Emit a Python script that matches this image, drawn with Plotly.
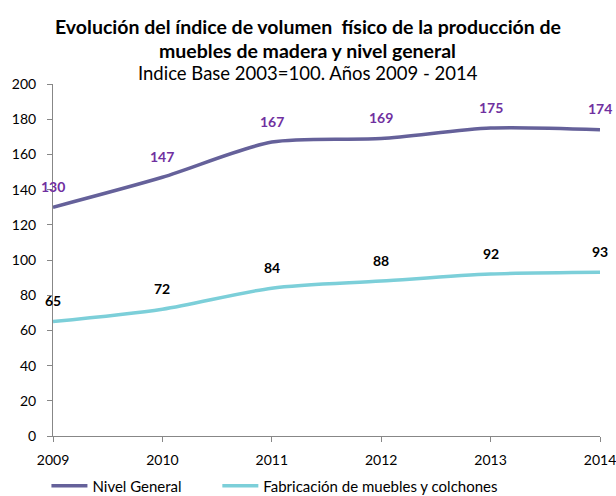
import plotly.graph_objects as go

years = ["2009", "2010", "2011", "2012", "2013", "2014"]
nivel_general = [130, 147, 167, 169, 175, 174]
muebles = [65, 72, 84, 88, 92, 93]
y_ticks = [0, 20, 40, 60, 80, 100, 120, 140, 160, 180, 200]

title_lines = [
    "<b>Evolución del índice de volumen  físico de la producción de</b>",
    "<b>muebles de madera y nivel general</b>",
    "Indice Base 2003=100. Años 2009 - 2014",
]

FONT = "Lato"
PAD = "\u00a0" * 8  # extra spacing after the first legend entry

fig = go.Figure()
fig.add_trace(go.Scatter(
    x=years, y=nivel_general, name="Nivel General" + PAD,
    mode="lines", line=dict(color="#65619a", width=3.5, shape="spline", smoothing=0.8),
))
fig.add_trace(go.Scatter(
    x=years, y=muebles, name="Fabricación de muebles y colchones",
    mode="lines", line=dict(color="#7ccfd9", width=3.5, shape="spline", smoothing=0.8),
))

for i, v in enumerate(nivel_general):
    fig.add_annotation(x=i, y=v, text=f"<b>{v}</b>", showarrow=False, yshift=21,
                       font=dict(family=FONT, size=14, color="#7030a0"))
for i, v in enumerate(muebles):
    fig.add_annotation(x=i, y=v, text=f"<b>{v}</b>", showarrow=False, yshift=21,
                       font=dict(family=FONT, size=14, color="#000000"))

fig.update_layout(
    width=616, height=496,
    margin=dict(l=53, r=16, t=84, b=60, autoexpand=False),
    paper_bgcolor="white", plot_bgcolor="white",
    font=dict(family=FONT, size=14, color="#000000"),
    showlegend=True,
    legend=dict(orientation="h", x=-0.012, xanchor="left", y=-0.095, yanchor="top",
                font=dict(family=FONT, size=15), itemwidth=36, tracegroupgap=0,
                bgcolor="rgba(0,0,0,0)"),
)
for line, ys, sz in zip(title_lines, [58, 34, 11], [19.5, 19.5, 18.5]):
    fig.add_annotation(
        text=line, xref="paper", yref="paper", x=0.466, y=1.0, xanchor="center",
        yanchor="middle", yshift=ys, showarrow=False,
        font=dict(family=FONT, size=sz, color="#000000"),
    )
fig.update_xaxes(
    type="category", range=[0, 5], showgrid=False, showline=True, linecolor="#878787",
    ticks="outside", ticklen=5, tickcolor="#878787", tickfont=dict(size=14),
    ticklabelstandoff=6, automargin=False,
)
fig.update_yaxes(
    range=[0, 200], tickvals=y_ticks, showgrid=False, showline=True, linecolor="#878787",
    ticks="outside", ticklen=5, tickcolor="#878787", zeroline=False, tickfont=dict(size=14),
    ticklabelstandoff=8, automargin=False,
)

fig.write_html("out.html", config={"displayModeBar": False},
               post_script="document.body.style.margin='0';")
